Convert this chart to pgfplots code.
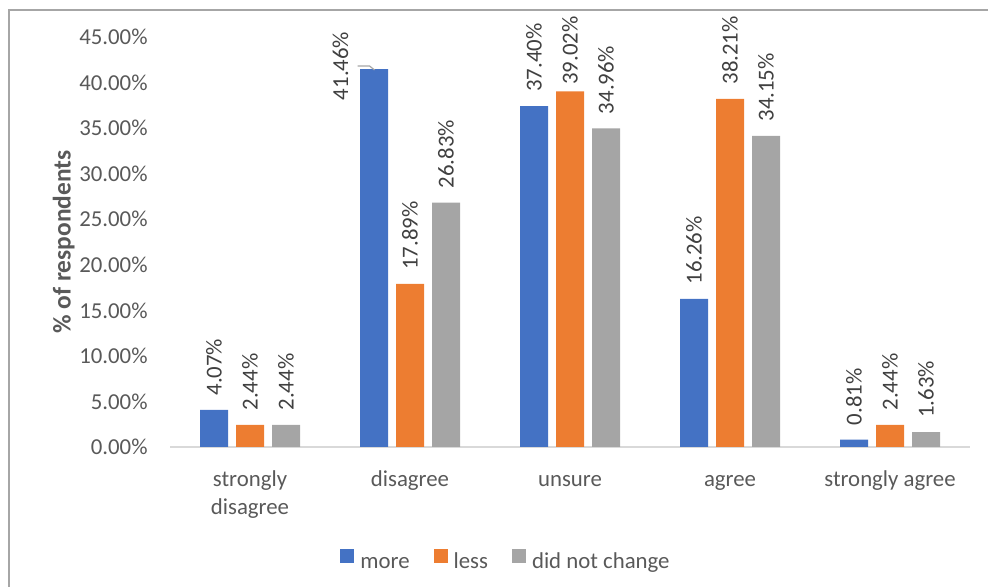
\documentclass[border=0pt]{standalone}
\usepackage{fontspec}
\setmainfont{Carlito}
\usepackage{pgfplots}
\usepackage{pgfplotstable}
\pgfplotsset{compat=1.18}

\definecolor{cMore}{HTML}{4472C4}
\definecolor{cLess}{HTML}{ED7D31}
\definecolor{cSame}{HTML}{A5A5A5}
\definecolor{txt}{HTML}{595959}
\definecolor{lbl}{HTML}{404040}
\definecolor{frameline}{HTML}{A6A6A6}
\definecolor{baseline}{HTML}{D9D9D9}
\newcommand\chartfont{\fontsize{11.4}{14.2}\selectfont}

% share of respondents (%) per answer; dx/gap place the value labels (pt)
\pgfplotstableread{
cat more moredx moregap less lessgap same
0   4.07   0      7       2.44  7       2.44
1   41.46  -16.75 -15.6   17.89 7       26.83
2   37.40  0      7       39.02 3.25    34.96
3   16.26  0      7       38.21 7       34.15
4   0.81   0      7       2.44  7       1.63
}\likert

\begin{document}
\begin{tikzpicture}
\useasboundingbox (0,0) rectangle (494pt,293.5pt);
\draw[frameline, line width=1.2pt] (4.35pt,-2pt) -- (4.35pt,288.5pt) -- (496pt,288.5pt);
\begin{axis}[
  at={(85pt,70pt)}, anchor=south west,
  scale only axis, width=400pt, height=205pt,
  xmin=-0.5, xmax=4.5, ymin=0, ymax=45,
  ytick={0,5,...,45},
  xtick={0,...,4},
  xticklabels={{\strut strongly\\disagree},{\strut disagree},{\strut unsure},{\strut agree},{\strut strongly agree}},
  axis x line*=bottom, axis y line*=left,
  x axis line style={draw=baseline, line width=0.75pt},
  y axis line style={draw=none},
  major tick length=0pt,
  /pgf/number format/assume math mode=true,
  yticklabel={\pgfmathprintnumber[fixed,fixed zerofill,precision=2]{\tick}\%},
  yticklabel style={font=\chartfont, text=txt, anchor=east, inner xsep=0pt, xshift=-11pt},
  xticklabel style={font=\chartfont, text=txt, align=center, anchor=north, inner ysep=0pt, yshift=-9.5pt},
  ylabel={\% of respondents},
  ylabel style={font=\fontsize{12.7}{15}\selectfont\bfseries, text=txt, at={(axis description cs:-0.133,0.5)}, anchor=center},
  ybar, bar width=14pt,
  nodes near coords={\pgfmathprintnumber[fixed,fixed zerofill,precision=2]{\pgfplotspointmeta}\%},
  legend style={draw=none, fill=none, legend columns=-1,
    at={(axis description cs:0.4225,-0.278)}, anchor=center,
    font=\chartfont, text=txt,
    nodes={inner xsep=3pt, inner ysep=0pt, text height=8pt, text depth=2pt},
    /tikz/every even column/.append style={column sep=9pt}},
  legend image code/.code={\fill[#1] (0pt,-0.5pt) rectangle (7pt,6.5pt);},
]
\addplot[fill=cMore, draw=none, bar shift=-18pt,
  visualization depends on={\thisrow{moredx} \as \dx},
  visualization depends on={\thisrow{moregap} \as \gap},
  every node near coord/.append style={font=\chartfont, text=lbl, anchor=west, inner sep=0pt, text height=, text depth=, xshift=\dx pt, yshift=\gap pt, rotate=90}]
  table[x=cat, y=more] {\likert};
\addplot[fill=cLess, draw=none, bar shift=0pt,
  visualization depends on={\thisrow{lessgap} \as \gap},
  every node near coord/.append style={font=\chartfont, text=lbl, anchor=west, inner sep=0pt, yshift=\gap pt, rotate=90}]
  table[x=cat, y=less] {\likert};
\addplot[fill=cSame, draw=none, bar shift=18pt,
  every node near coord/.append style={font=\chartfont, text=lbl, anchor=west, inner sep=0pt, yshift=7pt, rotate=90}]
  table[x=cat, y=same] {\likert};
\legend{more, less, did not change}
% leader from the moved 41.46% label to its bar
\draw[frameline, line width=0.6pt] ([shift={(-8.25pt,1.65pt)}]axis cs:0.775,41.46) -- ([shift={(-2.25pt,1.65pt)}]axis cs:0.775,41.46) -- ([shift={(0.25pt,-0.35pt)}]axis cs:0.775,41.46);
\end{axis}
\end{tikzpicture}
\end{document}
